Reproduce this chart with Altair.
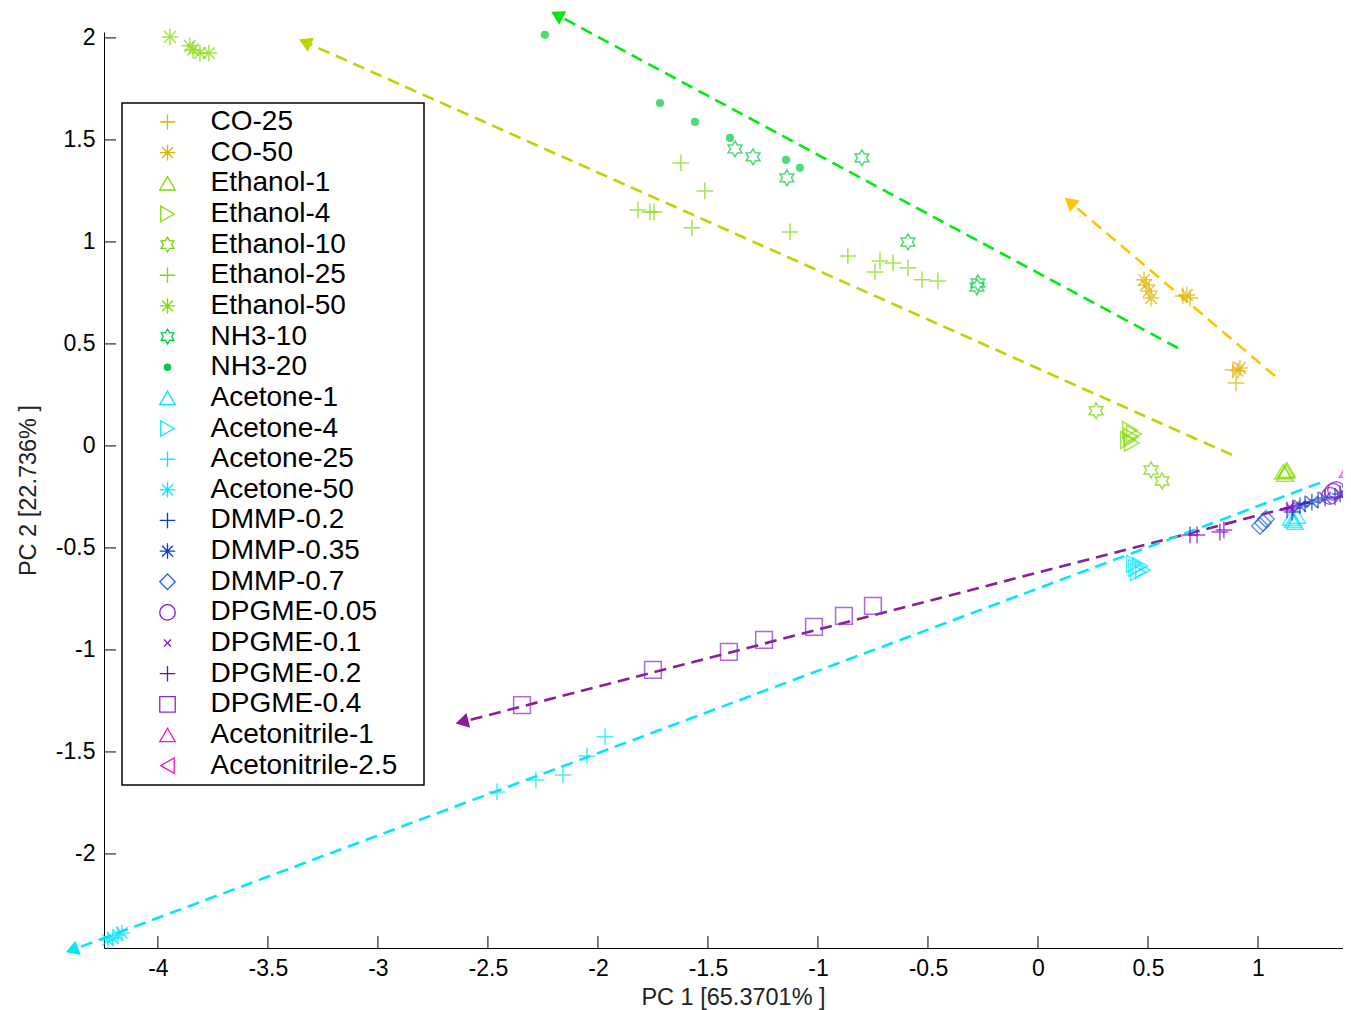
import math
import altair as alt
import pandas as pd

# ---------------- data ----------------
series = ["CO-25", "CO-50", "Ethanol-1", "Ethanol-4", "Ethanol-10", "Ethanol-25",
          "Ethanol-50", "NH3-10", "NH3-20", "Acetone-1", "Acetone-4", "Acetone-25",
          "Acetone-50", "DMMP-0.2", "DMMP-0.35", "DMMP-0.7", "DPGME-0.05",
          "DPGME-0.1", "DPGME-0.2", "DPGME-0.4", "Acetonitrile-1", "Acetonitrile-2.5"]

co25_x = [0.659, 0.691, 0.900, 0.886]
co25_y = [0.735, 0.725, 0.309, 0.373]
co50_x = [0.491, 0.505, 0.514, 0.482, 0.677, 0.909, 0.918]
co50_y = [0.789, 0.760, 0.725, 0.814, 0.740, 0.368, 0.382]
eth1_x = [1.114, 1.132, 1.123, 1.127]
eth1_y = [-0.127, -0.118, -0.137, -0.123]
eth4_x = [0.418, 0.423, 0.427, 0.409, 0.436]
eth4_y = [0.078, 0.044, 0.015, 0.029, 0.059]
eth10_x = [0.264, 0.514, 0.564]
eth10_y = [0.172, -0.118, -0.172]
eth25_x = [-1.623, -1.514, -1.818, -1.764, -1.745, -1.573, -1.127, -0.864,
           -0.741, -0.718, -0.659, -0.591, -0.527, -0.455]
eth25_y = [1.387, 1.250, 1.157, 1.147, 1.147, 1.069, 1.049, 0.931,
           0.853, 0.907, 0.897, 0.873, 0.814, 0.809]
eth50_x = [-3.945, -3.855, -3.841, -3.809, -3.768]
eth50_y = [2.005, 1.961, 1.941, 1.926, 1.926]
nh10_x = [-1.377, -1.295, -1.141, -0.800, -0.591, -0.273, -0.277]
nh10_y = [1.456, 1.417, 1.314, 1.412, 1.000, 0.799, 0.779]
nh20_x = [-2.241, -1.718, -1.559, -1.400, -1.145, -1.082]
nh20_y = [2.015, 1.681, 1.588, 1.510, 1.402, 1.363]
ace1_x = [1.159, 1.177, 1.168, 1.150]
ace1_y = [-0.363, -0.343, -0.373, -0.353]
ace4_x = [0.445, 0.464, 0.477, 0.455, 0.436]
ace4_y = [-0.598, -0.588, -0.608, -0.618, -0.578]
ace25_x = [-1.968, -2.050, -2.159, -2.282, -2.459]
ace25_y = [-1.426, -1.520, -1.613, -1.637, -1.696]
ace50_x = [-4.227, -4.182, -4.205, -4.164]
ace50_y = [-2.422, -2.397, -2.412, -2.387]
dm02_x = [1.155, 1.214, 1.273, 1.350]
dm02_y = [-0.324, -0.284, -0.265, -0.250]
dm035_x = [1.191, 1.245, 1.305, 1.373, 1.409]
dm035_y = [-0.294, -0.275, -0.255, -0.235, -0.225]
dm07_x = [1.023, 1.036, 1.009]
dm07_y = [-0.377, -0.358, -0.392]
dp005_x = [1.341, 1.327, 1.355]
dp005_y = [-0.225, -0.245, -0.216]
dp01_x = [1.145, 1.173]
dp01_y = [-0.299, -0.289]
dp02_x = [0.691, 0.723, 0.845, 0.827, 1.132, 1.159]
dp02_y = [-0.436, -0.436, -0.412, -0.422, -0.314, -0.304]
dp04_x = [-0.750, -0.882, -1.018, -1.245, -1.405, -1.750, -2.345]
dp04_y = [-0.784, -0.833, -0.887, -0.951, -1.010, -1.098, -1.270]
acn1_x = [1.409, 1.427]
acn1_y = [-0.118, -0.108]
acn25_x = [1.430]
acn25_y = [-0.265]

series_x = [co25_x, co50_x, eth1_x, eth4_x, eth10_x, eth25_x, eth50_x, nh10_x, nh20_x,
            ace1_x, ace4_x, ace25_x, ace50_x, dm02_x, dm035_x, dm07_x, dp005_x, dp01_x,
            dp02_x, dp04_x, acn1_x, acn25_x]
series_y = [co25_y, co50_y, eth1_y, eth4_y, eth10_y, eth25_y, eth50_y, nh10_y, nh20_y,
            ace1_y, ace4_y, ace25_y, ace50_y, dm02_y, dm035_y, dm07_y, dp005_y, dp01_y,
            dp02_y, dp04_y, acn1_y, acn25_y]

# trend arrows (start -> end)
arrow_names = ["CO", "Ethanol", "NH3", "DPGME", "Acetone"]
arrow_x0 = [1.077, 0.882, 0.636, 1.236, 1.282]
arrow_y0 = [0.343, -0.044, 0.480, -0.275, -0.181]
arrow_x1 = [0.145, -3.332, -2.186, -2.618, -4.391]
arrow_y1 = [1.196, 1.980, 2.113, -1.353, -2.471]
arrow_colors = ["#FFC400", "#BCD400", "#00EA10", "#8A1E98", "#00E8F8"]

x_ticks = [-4, -3.5, -3, -2.5, -2, -1.5, -1, -0.5, 0, 0.5, 1]
y_ticks = [-2, -1.5, -1, -0.5, 0, 0.5, 1, 1.5, 2]

# ---------------- styles ----------------
colors = ["#DDB500", "#DDB500", "#7EDC00", "#7EDC00", "#6ED400", "#7EDC00", "#7EDC00",
          "#00CC44", "#00CC44", "#00E4FF", "#00E4FF", "#00E4FF", "#00E4FF",
          "#0A3CC8", "#0A3CC8", "#2A66DA", "#8A10CC", "#8A10CC", "#8000C8", "#8A2ACF",
          "#FF10D0", "#FF10D0"]

PLUS = "M-1,0L1,0M0,-1L0,1"
STAR = "M-1,0L1,0M0,-1L0,1M-0.7,-0.7L0.7,0.7M-0.7,0.7L0.7,-0.7"
XMARK = "M-0.45,-0.45L0.45,0.45M-0.45,0.45L0.45,-0.45"
DOT = ("M-0.4,0A0.4,0.4 0 1,0 0.4,0A0.4,0.4 0 1,0 -0.4,0"
       "M-0.25,0A0.25,0.25 0 1,0 0.25,0A0.25,0.25 0 1,0 -0.25,0"
       "M-0.1,0A0.1,0.1 0 1,0 0.1,0A0.1,0.1 0 1,0 -0.1,0")
_pts = []
for k in range(12):
    a = math.radians(90 + 30 * k)
    r = 0.95 if k % 2 == 0 else 0.55
    _pts.append(f"{r * math.cos(a):.3f},{-r * math.sin(a):.3f}")
HEX = "M" + "L".join(_pts) + "Z"

shapes = [PLUS, STAR, "triangle-up", "triangle-right", HEX, PLUS, STAR, HEX, DOT,
          "triangle-up", "triangle-right", PLUS, STAR, PLUS, STAR, "diamond", "circle",
          XMARK, PLUS, "square", "triangle-up", "triangle-left"]

XDOM = [-4.245, 1.3864]
YDOM = [-2.461, 2.029]
W, H = 1239, 916
PX_X = W / (XDOM[1] - XDOM[0])
PX_Y = H / (YDOM[1] - YDOM[0])

# ---------------- tables ----------------
rows = []
for name, xs, ys in zip(series, series_x, series_y):
    for xv, yv in zip(xs, ys):
        rows.append({"series": name, "x": xv, "y": yv})
pts_df = pd.DataFrame(rows)

line_rows, head_rows = [], []
for n, x0, y0, x1, y1, c in zip(arrow_names, arrow_x0, arrow_y0, arrow_x1, arrow_y1, arrow_colors):
    line_rows.append({"arrow": n, "x": x0, "y": y0, "c": c, "o": 0})
    line_rows.append({"arrow": n, "x": x1, "y": y1, "c": c, "o": 1})
    dx = (x1 - x0) * PX_X
    dy = -(y1 - y0) * PX_Y
    ang = math.degrees(math.atan2(dx, -dy)) % 360
    head_rows.append({"arrow": n, "x": x1, "y": y1, "c": c, "ang": ang})
line_df = pd.DataFrame(line_rows)
head_df = pd.DataFrame(head_rows)
xt_df = pd.DataFrame({"x": x_ticks})
yt_df = pd.DataFrame({"y": y_ticks})

xscale = alt.Scale(domain=XDOM, nice=False, zero=False)
yscale = alt.Scale(domain=YDOM, nice=False, zero=False)

x_axis = alt.Axis(values=x_ticks, labelExpr="'' + datum.value", ticks=False, grid=False,
                  labelPadding=9, title="PC 1 [65.3701% ]", titleX=629, titleY=49,
                  titleBaseline="middle", titleAlign="center")
y_axis = alt.Axis(values=y_ticks, labelExpr="'' + datum.value", ticks=False, grid=False,
                  labelPadding=9, title="PC 2 [22.736% ]", titleX=-76, titleY=458,
                  titleAngle=270, titleBaseline="middle", titleAlign="center")

legend = alt.Legend(orient="none", legendX=18, legendY=71, title=None, padding=5,
                    fillColor="white", strokeColor="black",
                    labelFontSize=28, labelFont="Liberation Sans", labelColor="black",
                    labelLimit=500, rowPadding=2.65, symbolSize=240, symbolStrokeWidth=1.3,
                    symbolOffset=26.5, labelOffset=29,
                    labelExpr="datum.label + '\u2800'")

points = alt.Chart(pts_df).mark_point(filled=False, size=280, strokeWidth=1.5, clip=False).encode(
    x=alt.X("x:Q", scale=xscale, axis=x_axis),
    y=alt.Y("y:Q", scale=yscale, axis=y_axis),
    color=alt.Color("series:N", scale=alt.Scale(domain=series, range=colors), legend=legend),
    shape=alt.Shape("series:N", scale=alt.Scale(domain=series, range=shapes), legend=legend),
)

lines = alt.Chart(line_df).mark_line(strokeDash=[12, 7], strokeWidth=2.6, clip=False).encode(
    x=alt.X("x:Q", scale=xscale),
    y=alt.Y("y:Q", scale=yscale),
    detail="arrow:N",
    order="o:Q",
    color=alt.Color("c:N", scale=None),
)

heads = alt.Chart(head_df).mark_point(shape="triangle-up", filled=True, size=230, opacity=1,
                                      clip=False).encode(
    x=alt.X("x:Q", scale=xscale),
    y=alt.Y("y:Q", scale=yscale),
    angle=alt.Angle("ang:Q", scale=None),
    color=alt.Color("c:N", scale=None),
)

xticks = alt.Chart(xt_df).mark_rule(color="black", strokeWidth=1).encode(
    x=alt.X("x:Q", scale=xscale),
    y=alt.value(H),
    y2=alt.value(H - 12),
)
yticks = alt.Chart(yt_df).mark_rule(color="black", strokeWidth=1).encode(
    y=alt.Y("y:Q", scale=yscale),
    x=alt.value(0),
    x2=alt.value(12),
)

chart = alt.layer(lines, heads, xticks, yticks, points).properties(
    width=W, height=H,
    autosize=alt.AutoSizeParams(type="none"),
    padding={"left": 96, "top": 24, "right": 0, "bottom": 62},
).configure_view(stroke=None).configure_axis(
    domainColor="black", domainWidth=1,
    labelFont="Liberation Sans", labelFontSize=23, labelColor="black",
    titleFont="Liberation Sans", titleFontSize=23.5, titleFontWeight="normal", titleColor="#222",
).configure_legend(strokeWidth=1.5)

chart.save("out.html", embed_options={"renderer": "svg", "actions": False})
